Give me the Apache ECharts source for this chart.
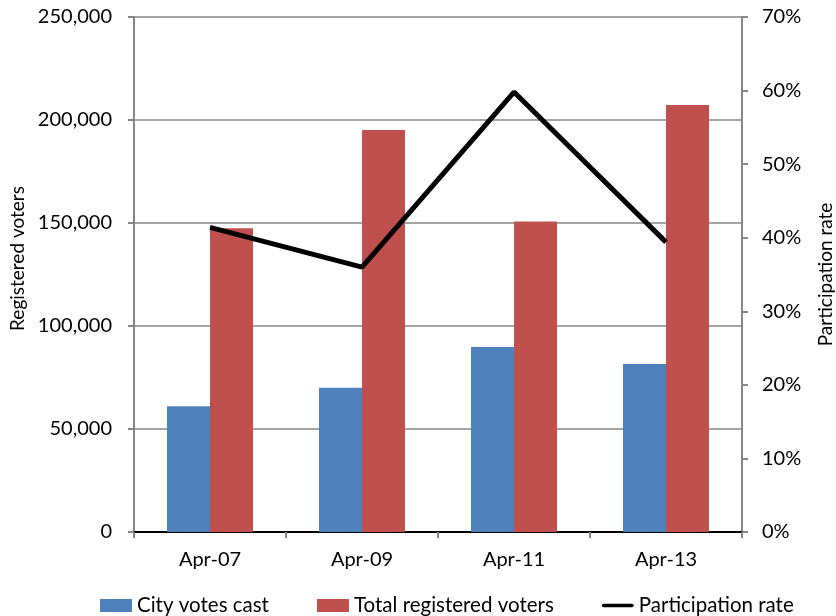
<!DOCTYPE html>
<html>
  <head>
    <meta charset="utf-8" />
    <title>Registered voters and participation</title>
    <script src="https://cdn.jsdelivr.net/npm/echarts@6/dist/echarts.min.js"></script>
  </head>
  <body style="margin:0;padding:0;">
    <div id="chart" style="width:836px;height:616px;"></div>
    <script type="text/javascript">
      // data
      var categories = ['Apr-07', 'Apr-09', 'Apr-11', 'Apr-13'];
      var votesCast = [61000, 70000, 89800, 81600];
      var registered = [147400, 195200, 150700, 207300];
      var participation = [41.4, 36.0, 59.8, 39.4];
      var leftTicks = { min: 0, max: 250000, interval: 50000 };
      var rightTicks = { min: 0, max: 70, interval: 10 };

      var gray = '#868686';
      var font = 'Lato';

      var myChart = echarts.init(document.getElementById('chart'), null, { renderer: 'canvas' });
      myChart.setOption({
        animation: false,
        textStyle: { fontFamily: font },
        grid: { left: 134, right: 94, top: 17, bottom: 84, outerBoundsMode: 'none', containLabel: false },
        legend: {
          left: 95,
          top: 590,
          itemWidth: 32,
          itemHeight: 13,
          itemGap: 48,
          textStyle: { fontFamily: font, fontSize: 20.5, color: '#000' },
          data: [
            { name: 'City votes cast', icon: 'rect' },
            { name: 'Total registered voters', icon: 'rect' },
            { name: 'Participation rate', icon: 'path://M2,0 L33,0 A2,2 0 0 1 33,4 L2,4 A2,2 0 0 1 2,0 Z' }
          ]
        },
        xAxis: [
          {
            type: 'category',
            data: categories,
            axisLine: { lineStyle: { color: gray, width: 2 } },
            axisTick: { show: true, length: 6, lineStyle: { color: gray, width: 2 } },
            axisLabel: { fontFamily: font, fontSize: 20, color: '#000', margin: 18 }
          },
          {
            type: 'category',
            data: categories,
            position: 'top',
            axisLine: { lineStyle: { color: '#000', width: 2 } },
            axisTick: { show: false },
            axisLabel: { show: false }
          }
        ],
        yAxis: [
          {
            type: 'value',
            min: leftTicks.min,
            max: leftTicks.max,
            interval: leftTicks.interval,
            name: 'Registered voters',
            nameLocation: 'middle',
            nameGap: 102,
            nameRotate: 90,
            nameTextStyle: { fontFamily: font, fontSize: 19, color: '#000', padding: [0, 0, 0, 32] },
            axisLine: { show: true, lineStyle: { color: gray, width: 2 } },
            axisTick: { show: true, length: 6, lineStyle: { color: gray, width: 2 } },
            axisLabel: {
              fontFamily: font, fontSize: 20, color: '#000', margin: 22,
              formatter: function (v) { return v.toLocaleString('en-US'); }
            },
            splitLine: { show: true, lineStyle: { color: gray, width: 1.5 } }
          },
          {
            type: 'value',
            min: rightTicks.min,
            max: rightTicks.max,
            interval: rightTicks.interval,
            position: 'right',
            name: 'Participation rate',
            nameLocation: 'middle',
            nameGap: 74,
            nameRotate: 90,
            nameTextStyle: { fontFamily: font, fontSize: 19, color: '#000' },
            axisLine: { show: true, lineStyle: { color: gray, width: 2 } },
            axisTick: { show: true, length: 6, lineStyle: { color: gray, width: 2 } },
            axisLabel: { fontFamily: font, fontSize: 20, color: '#000', margin: 20, formatter: '{value}%' },
            splitLine: { show: false }
          }
        ],
        series: [
          {
            name: 'City votes cast',
            type: 'bar',
            data: votesCast,
            barWidth: 43,
            barGap: '0%',
            itemStyle: { color: '#4F81BD' }
          },
          {
            name: 'Total registered voters',
            type: 'bar',
            data: registered,
            barWidth: 43,
            barGap: '0%',
            itemStyle: { color: '#C0504D' }
          },
          {
            name: 'Participation rate',
            type: 'line',
            yAxisIndex: 1,
            data: participation,
            symbol: 'none',
            z: 5,
            lineStyle: { color: '#000', width: 5 },
            itemStyle: { color: '#000' }
          }
        ]
      });
    </script>
  </body>
</html>
